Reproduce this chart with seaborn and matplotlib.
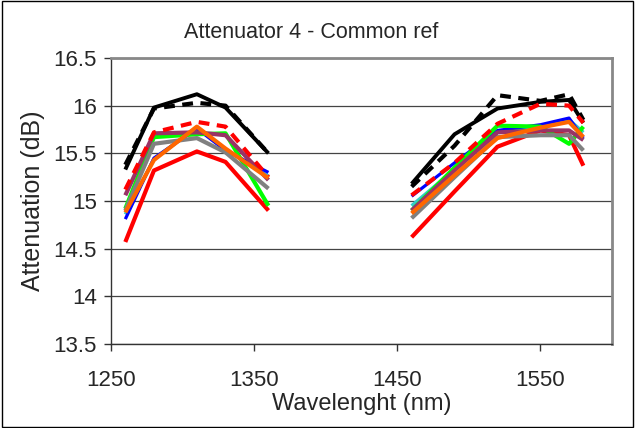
import numpy as np
import pandas as pd
import matplotlib
matplotlib.use("Agg")
import matplotlib.pyplot as plt
import seaborn as sns

# Wavelengths (nm) for the two measurement bands
wl_o = [1260, 1280, 1310, 1330, 1360]
wl_c = [1460, 1490, 1520, 1550, 1570, 1580]

# Attenuation (dB) per series, band 1 and band 2
black_solid_o = [15.33, 15.98, 16.12, 15.98, 15.50]
black_solid_c = [15.18, 15.70, 15.97, 16.04, 16.06, 15.82]
black_dash_o = [15.38, 15.97, 16.03, 16.00, 15.50]
black_dash_c = [15.15, 15.58, 16.11, 16.05, 16.12, 15.85]
red_dash_o = [15.12, 15.72, 15.83, 15.78, 15.25]
red_dash_c = [15.06, 15.40, 15.81, 16.02, 16.00, 15.82]
red_solid_o = [14.57, 15.32, 15.52, 15.41, 14.90]
red_solid_c = [14.62, 15.10, 15.57, 15.74, 15.69, 15.37]
teal_o = [14.86, 15.44, 15.77, 15.54, 15.26]
teal_c = [14.95, 15.33, 15.72, 15.78, 15.85, 15.72]
blue_o = [14.81, 15.45, 15.76, 15.53, 15.30]
blue_c = [15.05, 15.40, 15.74, 15.80, 15.87, 15.66]
green_o = [14.92, 15.67, 15.70, 15.71, 14.95]
green_c = [14.90, 15.35, 15.79, 15.78, 15.60, 15.78]
gray_o = [14.90, 15.60, 15.66, 15.51, 15.13]
gray_c = [14.82, 15.25, 15.67, 15.69, 15.69, 15.53]
purple_o = [15.06, 15.71, 15.72, 15.69, 15.22]
purple_c = [14.90, 15.32, 15.72, 15.74, 15.74, 15.64]
orange_o = [14.88, 15.43, 15.78, 15.55, 15.24]
orange_c = [14.87, 15.27, 15.66, 15.77, 15.83, 15.67]

yticks = [13.5, 14, 14.5, 15, 15.5, 16, 16.5]
xticks = [1250, 1350, 1450, 1550]

series = [
    ("red_solid", red_solid_o, red_solid_c, "#ff0000", "-", 3.0),
    ("teal", teal_o, teal_c, "#33cccc", "-", 2.5),
    ("blue", blue_o, blue_c, "#0000ff", "-", 2.3),
    ("green", green_o, green_c, "#00ff00", "-", 3.0),
    ("gray", gray_o, gray_c, "#808080", "-", 3.0),
    ("purple", purple_o, purple_c, "#993366", "-", 3.0),
    ("black_solid", black_solid_o, black_solid_c, "#000000", "-", 2.8),
    ("black_dash", black_dash_o, black_dash_c, "#000000", "--", 3.0),
    ("red_dash", red_dash_o, red_dash_c, "#ff0000", "--", 3.0),
    ("orange", orange_o, orange_c, "#ff6600", "-", 3.0),
]

sns.set_style("white")
plt.rcParams['font.family'] = ['Liberation Sans', 'DejaVu Sans']

fig = plt.figure(figsize=(6.35, 4.28), dpi=100)
ax = fig.add_axes([111/635, 1-344/428, (612-111)/635, (344-58)/428])

for name, yo, yc, col, ls, lw in series:
    for xs, ys in ((wl_o, yo), (wl_c, yc)):
        df = pd.DataFrame({"wl": xs, "att": ys})
        sns.lineplot(data=df, x="wl", y="att", ax=ax, color=col, lw=lw,
                     sort=False, legend=False)
        line = ax.lines[-1]
        if ls == "--":
            line.set_dashes((2.6, 1.8))
        line.set_solid_capstyle("butt")

ax.set_xlim(1250, 1600)
ax.set_ylim(13.5, 16.5)
ax.set_xticks(xticks)
ax.set_xticklabels([str(t) for t in xticks])
ax.set_yticks(yticks)
ax.set_yticklabels([("%g" % t) for t in yticks])
ax.yaxis.grid(True, color="#444444", lw=0.9)
ax.set_axisbelow(True)
ax.tick_params(axis="both", direction="out", length=5, width=1, color="#333333",
               labelsize=16, left=True, bottom=True)
ax.tick_params(axis="y", pad=5)
ax.tick_params(axis="x", pad=14)
for s in ("left", "bottom"):
    ax.spines[s].set_color("#333333")
    ax.spines[s].set_linewidth(1.0)
for s in ("top", "right"):
    ax.spines[s].set_color("#888888")
    ax.spines[s].set_linewidth(2.0)

ax.set_xlabel("Wavelenght (nm)", fontsize=17, labelpad=1)
ax.set_ylabel("Attenuation (dB)", fontsize=18, labelpad=6)
fig.text(311/635, 1-33/428, "Attenuator 4 - Common ref", ha="center", va="center", fontsize=15.5)

border = plt.Rectangle((0.003, 0.003), 0.994, 0.994, transform=fig.transFigure,
                       fill=False, edgecolor="black", lw=1.0)
fig.patches.append(border)

fig.savefig("out.png", dpi=100)
